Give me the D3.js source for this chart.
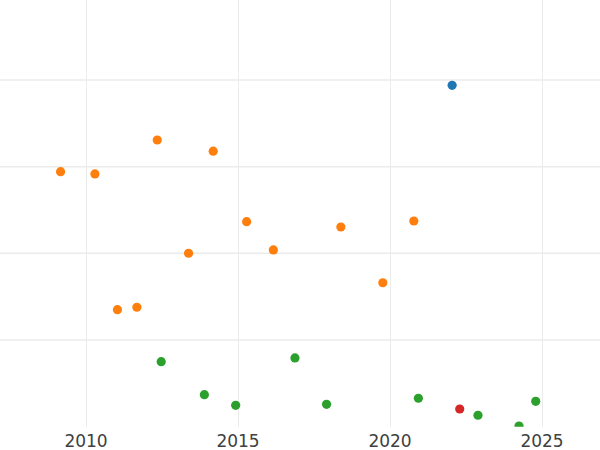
<!DOCTYPE html>
<html><head><meta charset="utf-8">
<script src="https://cdn.jsdelivr.net/npm/d3@7"></script>
<style>html,body{margin:0;padding:0;background:#fff;}svg{display:block;}</style>
</head><body>
<script>
const xTicks = [2010, 2015, 2020, 2025];
const yGrid = [10, 20, 30, 40];
const blueX = [2022.06];
const blueY = [39.39];
const orangeX = [2009.18, 2010.31, 2012.36, 2014.20, 2011.05, 2011.69, 2013.39, 2015.30, 2016.18, 2018.40, 2019.78, 2020.80];
const orangeY = [29.42, 29.16, 33.08, 31.79, 13.50, 13.78, 20.01, 23.65, 20.39, 23.04, 16.61, 23.73];
const greenX = [2012.49, 2013.91, 2014.94, 2016.89, 2017.93, 2020.95, 2022.91, 2024.26, 2024.81];
const greenY = [7.50, 3.69, 2.47, 7.93, 2.58, 3.28, 1.32, 0.08, 2.93];
const redX = [2022.31];
const redY = [2.04];
const seriesColors = ["#1f77b4", "#ff7f0e", "#2ca02c", "#d62728"];

const W = 600, H = 450;
const plotBottom = 426.7;
const svg = d3.select("body").append("svg").attr("width", W).attr("height", H);
const x = d3.scaleLinear().domain([2007.1875, 2026.924]).range([0, W]);
const y = d3.scaleLinear().domain([0, 49.23]).range([plotBottom, 0]);

svg.append("defs").append("clipPath").attr("id", "clip")
  .append("rect").attr("x", 0).attr("y", 0).attr("width", W).attr("height", plotBottom);

const grid = svg.append("g");
grid.selectAll(".hg").data(yGrid).join("line")
  .attr("x1", 0).attr("x2", W)
  .attr("y1", d => y(d)).attr("y2", d => y(d))
  .attr("stroke", "#ebebeb").attr("stroke-width", 1.5);
grid.selectAll(".vg").data(xTicks).join("line")
  .attr("x1", d => Math.round(x(d)) + 0.5).attr("x2", d => Math.round(x(d)) + 0.5)
  .attr("y1", 0).attr("y2", plotBottom)
  .attr("stroke", "#ebebeb").attr("stroke-width", 1);

const xAxis = d3.axisBottom(x).tickValues(xTicks).tickFormat(d3.format("d")).tickSize(0).tickPadding(8);
const ax = svg.append("g").attr("transform", `translate(0,${plotBottom})`).call(xAxis);
ax.select(".domain").remove();
ax.selectAll("text").attr("font-family", "DejaVu Sans").attr("font-size", 17).attr("fill", "#404040");

const series = [[blueX, blueY], [orangeX, orangeY], [greenX, greenY], [redX, redY]];
const pts = svg.append("g").attr("clip-path", "url(#clip)");
series.forEach((s, i) => {
  const data = s[0].map((v, j) => [v, s[1][j]]);
  pts.selectAll(null).data(data).join("circle")
    .attr("cx", d => x(d[0])).attr("cy", d => y(d[1]))
    .attr("r", 4.6).attr("fill", seriesColors[i]);
});
</script>
</body></html>
